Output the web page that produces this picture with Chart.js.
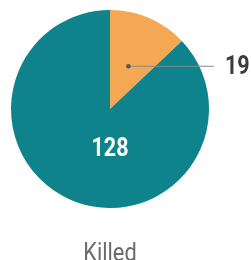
<!DOCTYPE html>
<html>
<head>
<meta charset="utf-8">
<script src="https://cdn.jsdelivr.net/npm/chart.js@4"></script>
<style>
html,body{margin:0;padding:0;background:#fff;overflow:hidden}
#wrap{width:251px;height:260px;position:relative}
</style>
</head>
<body>
<div id="wrap"><canvas id="pie"></canvas></div>
<script>
const categories=["Other","Killed"];
const values=[19,128];
const sliceColors=["#F4A853","#0E838B"];
const caption="Killed";

// draw condensed text by squeezing Roboto horizontally
const squeeze=(ctx,txt,x,y,font,color,align,sx)=>{
  ctx.save();ctx.font=font;ctx.fillStyle=color;ctx.textBaseline="middle";
  const w=ctx.measureText(txt).width*sx;
  let left=align==="center"?x-w/2:align==="right"?x-w:x;
  ctx.translate(left,y);ctx.scale(sx,1);ctx.textAlign="left";ctx.fillText(txt,0,0);
  ctx.restore();
};

const labels={id:"labels",afterDraw(chart){
  const ctx=chart.ctx,arcs=chart.getDatasetMeta(0).data;
  const a0=arcs[0];
  const cx=a0.x,cy=a0.y,r=a0.outerRadius;
  // small slice: dot at mid-angle, leader line out to the right
  const mid=(a0.startAngle+a0.endAngle)/2;
  const px=cx+Math.cos(mid)*r*0.47,py=cy+Math.sin(mid)*r*0.47;
  ctx.save();
  ctx.strokeStyle="#8a8a8a";ctx.lineWidth=1;
  ctx.beginPath();ctx.moveTo(px,py);ctx.lineTo(cx+r+5,py);ctx.stroke();
  ctx.fillStyle="#555";ctx.beginPath();ctx.arc(px,py,2.3,0,Math.PI*2);ctx.fill();
  ctx.restore();
  squeeze(ctx,String(values[0]),cx+r+16,py+1,"bold 25px Roboto","#3c3c3c","left",0.86);
  // big slice value inside
  squeeze(ctx,String(values[1]),cx,cy+r*0.41,"bold 25px Roboto","#ffffff","center",0.86);
  // caption
  squeeze(ctx,caption,cx,cy+r+46,"26px Roboto","#6b6b6b","center",0.84);
}};

new Chart("pie",{type:"pie",
  data:{labels:categories,datasets:[{data:values,backgroundColor:sliceColors,borderWidth:0,hoverOffset:0}]},
  options:{responsive:true,maintainAspectRatio:false,animation:false,
    layout:{padding:{left:11,top:10,right:42,bottom:52}},
    plugins:{legend:{display:false},tooltip:{enabled:false}}},
  plugins:[labels]});
</script>
</body>
</html>
